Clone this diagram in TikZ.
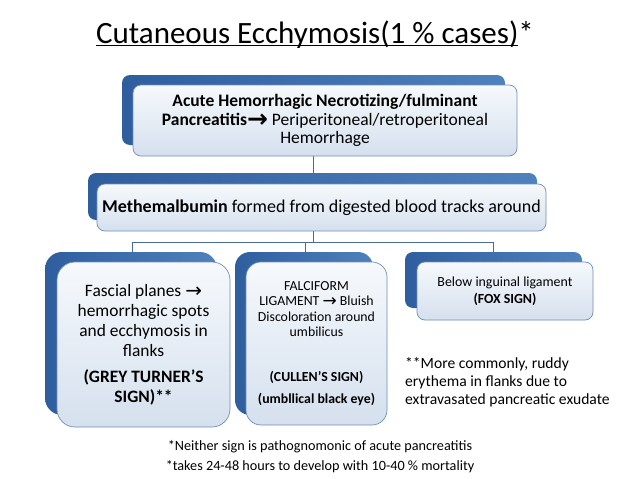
\documentclass[tikz,border=0pt]{standalone}
\usepackage{fontspec}
\setmainfont{Carlito}
\newfontfamily\arrfont{DejaVu Sans}
\newcommand{\myarrow}[3]{\smash{\raisebox{#2}{\arrfont#3\fontsize{#1}{#1}\selectfont →}}}
\definecolor{backL}{HTML}{2F5E9E}
\definecolor{backR}{HTML}{4F81BD}
\definecolor{frontT}{HTML}{F6F9FC}
\definecolor{frontB}{HTML}{D5E0EE}
\definecolor{frontD}{HTML}{6F8FB7}
\definecolor{lineC}{HTML}{4A6C94}
\tikzset{
  backbox/.style={rectangle, inner sep=0pt, left color=backL, right color=backR, draw=none},
  frontbox/.style={rectangle, inner sep=2pt, top color=frontT, bottom color=frontB, draw=frontD, line width=0.7pt, align=center, text=black},
  conn/.style={draw=lineC, line width=0.8pt},
  plain/.style={inner sep=0pt, text=black}
}
\begin{document}
\begin{tikzpicture}[x=1pt,y=-1pt]
\useasboundingbox (0,0) rectangle (638,479);
\fill[white] (0,0) rectangle (638,479);
% title
\node[plain, anchor=base] (title) at (315,43) {\fontsize{31}{35}\selectfont\sbox0{Cutaneous Ecchymosis(1 \% cases)}\rlap{\rule[-3pt]{\wd0}{1.2pt}}\usebox0*};
% junctions
\coordinate (jc) at (313,242);
\coordinate (jl) at (132,242);
\coordinate (jm) at (305,242);
\coordinate (jr) at (493,242);
% back boxes
\node[backbox, rounded corners=8pt, minimum width=383pt, minimum height=70pt] (topback) at (313.5,110) {};
\node[backbox, rounded corners=8pt, minimum width=449pt, minimum height=47pt] (secback) at (312.5,196.5) {};
\node[backbox, rounded corners=17pt, minimum width=172pt, minimum height=163pt] (leftback) at (131,333.5) {};
\node[backbox, rounded corners=15pt, minimum width=138pt, minimum height=163pt] (midback) at (304,333.5) {};
\node[backbox, rounded corners=8pt, minimum width=177pt, minimum height=56pt] (rightback) at (493.5,280) {};
% connectors
\draw[conn] (topback.south -| jc) -- (secback.north -| jc);
\draw[conn] (secback.south -| jc) -- (jc);
\draw[conn] (jl) -- (jr);
\draw[conn] (jl) -- (jl |- leftback.north);
\draw[conn] (jm) -- (jm |- midback.north);
\draw[conn] (jr) -- (jr |- rightback.north);
% front boxes
\node[frontbox, rounded corners=8pt, minimum width=384pt, minimum height=71pt, font=\fontsize{17.5}{18.5}\selectfont] (topfront) at (325,120.5)
  {\textbf{Acute Hemorrhagic Necrotizing/fulminant}\\\textbf{Pancreatitis}\myarrow{25}{-2pt}{\bfseries} Periperitoneal/retroperitoneal\\Hemorrhage};
\node[frontbox, rounded corners=8pt, minimum width=449pt, minimum height=47pt, font=\fontsize{18}{20}\selectfont] (secfront) at (321.5,207.5)
  {\textbf{Methemalbumin} formed from digested blood tracks around};
\node[frontbox, rounded corners=18pt, minimum width=173pt, minimum height=165pt, font=\fontsize{17.4}{20}\selectfont] (leftfront) at (143.5,344.5)
  {Fascial planes \myarrow{20}{-1.2pt}{}\\hemorrhagic spots\\and ecchymosis in\\flanks\\[6pt]\textbf{(GREY TURNER’S}\\\textbf{SIGN)**}};
\node[frontbox, rounded corners=15pt, minimum width=141pt, minimum height=163pt, font=\fontsize{13.8}{15.5}\selectfont] (midfront) at (316.5,343.5)
  {FALCIFORM\\LIGAMENT \myarrow{17}{-1pt}{} Bluish\\Discoloration around\\umbilicus\\[29pt]\textbf{(CULLEN’S SIGN)}\\[6.5pt]\textbf{(umbllical black eye)}};
\node[frontbox, rounded corners=8pt, minimum width=176pt, minimum height=58pt, font=\fontsize{13.9}{17}\selectfont] (rightfront) at (505,291)
  {Below inguinal ligament\\\textbf{(FOX SIGN)}};
% notes
\node[plain, anchor=north west, align=left, font=\fontsize{15.6}{18}\selectfont] (note) at (405,357)
  {**More commonly, ruddy\\erythema in flanks due to\\extravasated pancreatic exudate};
\node[plain, anchor=center, align=center, font=\fontsize{14.2}{20}\selectfont] (bottom) at (320,457)
  {*Neither sign is pathognomonic of acute pancreatitis\\*takes 24-48 hours to develop with 10-40 \% mortality};
\end{tikzpicture}
\end{document}
